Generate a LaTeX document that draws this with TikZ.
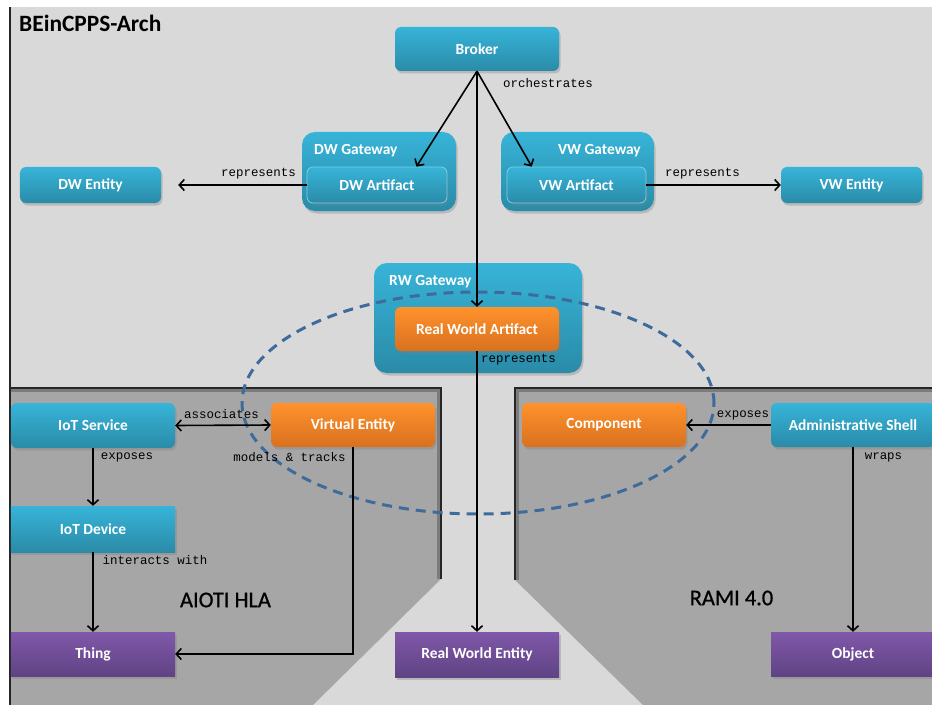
\documentclass[tikz,border=0pt]{standalone}
\usepackage{fontspec}
\setmainfont{Carlito}
\newfontfamily\monof{Liberation Mono}
\newfontfamily\semif[FakeBold=0.7]{Carlito}
\usetikzlibrary{shadows,arrows.meta,calc,shapes.geometric}
\definecolor{bgl}{HTML}{D9D9D9}
\definecolor{bgd}{HTML}{A6A6A6}
\definecolor{bt}{HTML}{37B4D8}
\definecolor{bb}{HTML}{2A8BA8}
\definecolor{ot}{HTML}{FF922C}
\definecolor{ob}{HTML}{D8711F}
\definecolor{pt}{HTML}{8058A9}
\definecolor{pb}{HTML}{5F4384}
\definecolor{ellc}{HTML}{3E6B9B}
\tikzset{
  shd/.style={drop shadow={shadow xshift=1.5bp, shadow yshift=-2.5bp, opacity=0.35}},
  box/.style={minimum width=164bp, minimum height=44bp, inner sep=0pt, text=white,
    font=\fontsize{15.5}{18}\selectfont\bfseries, shd},
  bluebox/.style={box, rounded corners=6bp, top color=bt, bottom color=bb},
  bluesq/.style={box, top color=bt, bottom color=bb},
  orangebox/.style={box, rounded corners=6bp, top color=ot, bottom color=ob},
  purplebox/.style={box, top color=pt, bottom color=pb},
  innerbox/.style={box, rounded corners=6bp, top color=bt, bottom color=bb, draw=white!35!bt, line width=0.8bp},
  gwbox/.style={inner sep=0pt, rounded corners=13bp, top color=bt, bottom color=bb, shd},
  gwtext/.style={inner sep=0pt, text=white, font=\fontsize{15.5}{18}\selectfont\bfseries},
  lbl/.style={inner sep=0pt, font=\monof\fontsize{12.5}{14}\selectfont},
  arr/.style={draw=black, line width=1.6bp, -{Straight Barb[length=5bp, width=11bp, line width=1.6bp]}},
  darr/.style={draw=black, line width=1.6bp, {Straight Barb[length=5bp, width=11bp, line width=1.6bp]}-{Straight Barb[length=5bp, width=11bp, line width=1.6bp]}},
  edge/.style={draw=black!85, line width=1.6bp},
  edgeshd/.style={draw=black, opacity=0.25, line width=3bp},
  big/.style={inner sep=0pt, font=\semif\fontsize{22.5}{26}\selectfont, text=black}
}
\begin{document}
\begin{tikzpicture}[x=1bp, y=-1bp]
\useasboundingbox (0,0) rectangle (932,705);
\fill[white] (0,0) rectangle (932,705);
\fill[bgl] (10,7) rectangle (932,705);
% panels
\fill[bgd] (10,388) -- (441,388) -- (441,579) -- (313,705) -- (10,705) -- cycle;
\fill[bgd] (515,388) -- (932,388) -- (932,705) -- (643,705) -- (515,580) -- cycle;
\draw[edgeshd] (10,390.5) -- (438.5,390.5) -- (438.5,579);
\draw[edgeshd] (932,390.5) -- (517.5,390.5) -- (517.5,580);
\draw[edge] (10,388) -- (441,388) -- (441,579);
\draw[edge] (932,388) -- (515,388) -- (515,580);
\draw[black!85, line width=1.4bp] (10,7) -- (10,705);
% title
\node[inner sep=0pt, anchor=west, font=\fontsize{23.5}{27}\selectfont\bfseries] (title) at (19,23) {BEinCPPS-Arch};
\node[big] (aioti) at (225.5,600) {AIOTI HLA};
\node[big] (rami) at (731.5,598) {RAMI 4.0};
% gateways
\node[gwbox, minimum width=154bp, minimum height=79bp] (dwg) at (379,171.5) {};
\node[gwbox, minimum width=153bp, minimum height=79bp] (vwg) at (577.5,171.5) {};
\node[gwbox, minimum width=208bp, minimum height=110bp] (rwg) at (478,318) {};
\node[gwtext, anchor=west] (dwgl) at (314,151) {DW Gateway};
\node[gwtext, anchor=east] (vwgl) at (641,151) {VW Gateway};
\node[gwtext, anchor=west] (rwgl) at (389,282) {RW Gateway};
% nodes
\node[bluebox] (broker) at (477,49) {Broker};
\node[innerbox, minimum width=140bp, minimum height=36bp] (dwa) at (377,185) {DW Artifact};
\node[innerbox, minimum width=139bp, minimum height=36bp] (vwa) at (576.5,185) {VW Artifact};
\node[bluebox, minimum width=141bp, minimum height=36bp] (dwe) at (90.5,185) {DW Entity};
\node[bluebox, minimum width=141bp, minimum height=36bp] (vwe) at (851.5,185) {VW Entity};
\node[orangebox] (rwa) at (477,329) {Real World Artifact};
\node[bluebox, minimum height=45bp] (iots) at (93,425.5) {IoT Service};
\node[orangebox] (ve) at (353,425) {Virtual Entity};
\node[orangebox] (comp) at (604,425) {Component};
\node[bluebox] (as) at (853,425) {Administrative Shell};
\node[bluesq, minimum height=46bp] (iotd) at (93,529) {IoT Device};
\node[purplebox] (thing) at (93,654) {Thing};
\node[purplebox, minimum height=45bp] (rwe) at (477,654.5) {Real World Entity};
\node[purplebox] (obj) at (853,654) {Object};
% ellipse
\node[draw=ellc, line width=3bp, dash pattern=on 10bp off 7bp, ellipse, minimum width=472bp, minimum height=222bp, inner sep=0pt] (scopeell) at (478,403) {};
% connectors
\draw[arr] (broker.south) -- ($(dwa.north west)!0.78!(dwa.north east)$);
\draw[arr] (broker.south) -- ($(vwa.north west)!0.18!(vwa.north east)$);
\draw[arr] (broker.south) -- (rwa.north);
\draw[arr] (rwa.south) -- (rwe.north);
\draw[arr, shorten >=17bp] (dwa.west) -- (dwe.east);
\draw[arr] (vwa.east) -- (vwe.west);
\draw[darr] (iots.east) -- (ve.west);
\draw[arr] (iots.south) -- (iotd.north);
\draw[arr] (iotd.south) -- (thing.north);
\draw[arr] (ve.south) |- (thing.east);
\draw[arr] (as.west) -- (comp.east);
\draw[arr] (as.south) -- (obj.north);
% labels
\node[lbl] (lorch) at (548,83) {orchestrates};
\node[lbl] (lrepdw) at (258.5,174) {represents};
\node[lbl] (lrepvw) at (702.5,174) {represents};
\node[lbl] (lreprw) at (518.5,360) {represents};
\node[lbl] (lassoc) at (221.5,414) {associates};
\node[lbl] (lexpl) at (127,457) {exposes};
\node[lbl] (lmodel) at (289.5,457) {models \& tracks};
\node[lbl] (linter) at (155,560) {interacts with};
\node[lbl] (lexpr) at (743,415) {exposes};
\node[lbl] (lwraps) at (883.5,457) {wraps};
\end{tikzpicture}
\end{document}
